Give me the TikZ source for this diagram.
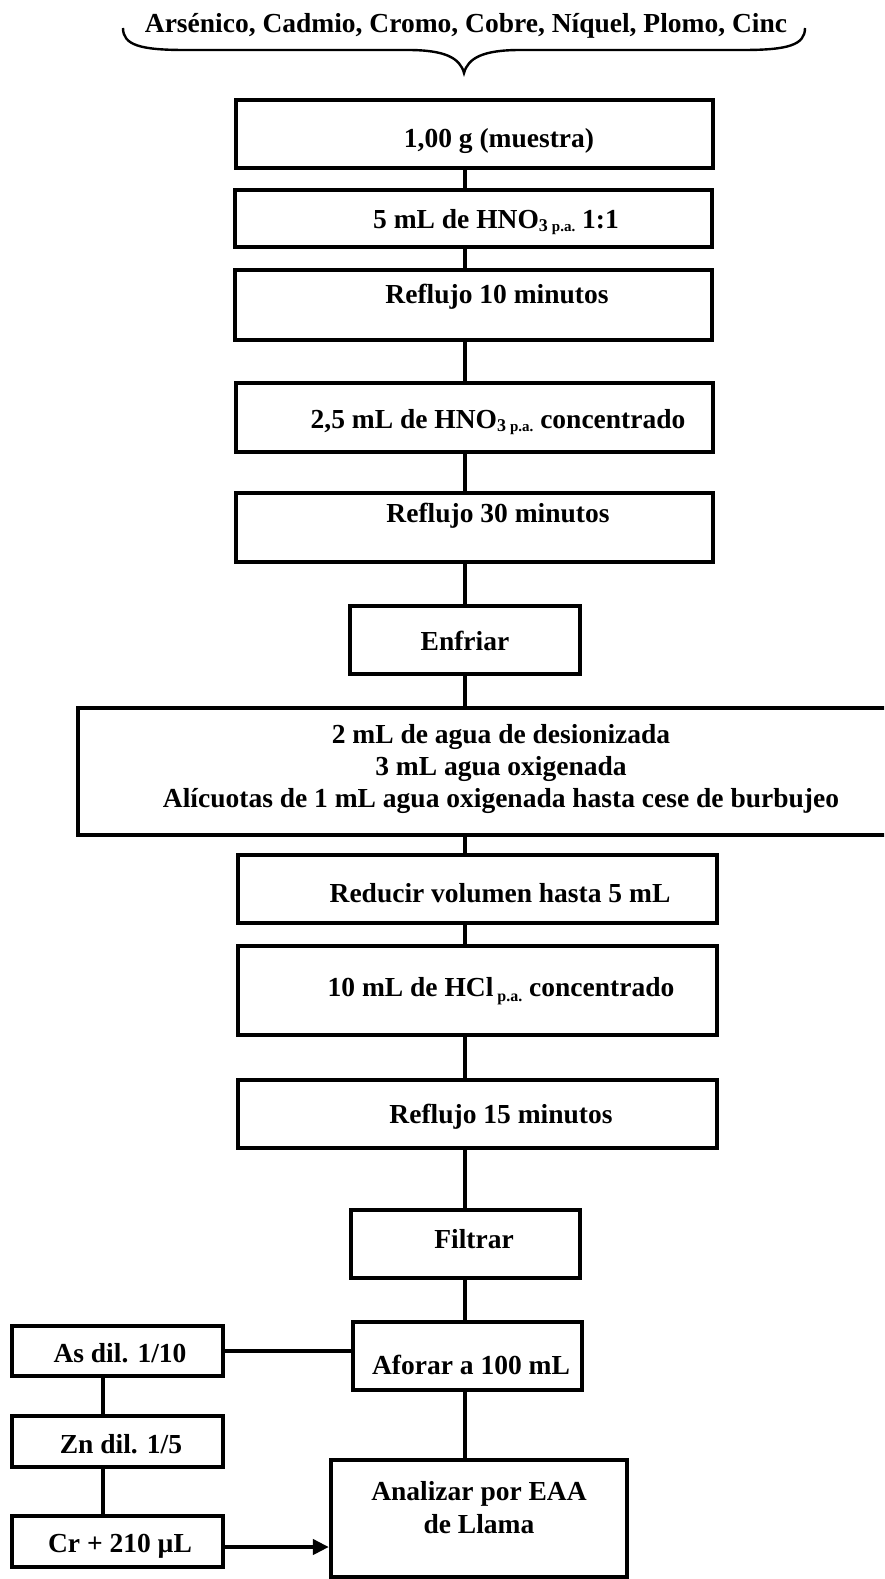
\documentclass[tikz,border=0pt]{standalone}
\usepackage{fontspec}
\setmainfont{Liberation Serif}
\usetikzlibrary{arrows.meta,fit}
\tikzset{
  box/.style={draw, line width=4.2pt, inner sep=0pt, rectangle},
  conn/.style={line width=3.2pt},
  arrowconn/.style={line width=4.2pt, -{Triangle[length=16pt,width=15pt]}},
  bracestyle/.style={line width=2.4pt},
  txt/.style={anchor=base, inner sep=0pt, font=\fontsize{27.5}{32}\selectfont\bfseries},
  txtb/.style={anchor=base, inner sep=0pt, font=\fontsize{27.5}{33}\selectfont\bfseries},
}
\newcommand\hnosub{\raisebox{-3pt}{\fontsize{18}{18}\selectfont 3\hspace{4pt}\fontsize{15}{15}\selectfont p.a.}}
\newcommand\hclsub{\hspace{4pt}\raisebox{-5pt}{\fontsize{16}{16}\selectfont p.a.}}
\begin{document}
\begin{tikzpicture}[x=1pt,y=-1pt]
\useasboundingbox (0,0) rectangle (884,1579);
\fill[white] (0,0) rectangle (884,1579);
\clip (0,0) rectangle (884,1579);
\coordinate (cx) at (465,0);
\coordinate (lx) at (103,0);
\coordinate (ry) at (0,1547);

% title and brace
\node[txt] (title) at (466,33) {Arsénico, Cadmio, Cromo, Cobre, Níquel, Plomo, Cinc};
\draw[bracestyle] (123,28) .. controls (123,45) and (140,50) .. (185,50) -- (408,50)
   .. controls (445,50) and (460,58) .. (464,73)
   .. controls (468,58) and (483,50) .. (520,50) -- (743,50)
   .. controls (788,50) and (805,45) .. (805,28);

% boxes
\node[box, fit={(236,100) (713,168)}] (b1) {};
\node[box, fit={(235,190) (712,247)}] (b2) {};
\node[box, fit={(235,270) (712,340)}] (b3) {};
\node[box, fit={(236,383) (713,452)}] (b4) {};
\node[box, fit={(236,493) (713,562)}] (b5) {};
\node[box, fit={(350,606) (580,674)}] (b6) {};
\node[box, fit={(78,708) (900,835)}] (b7) {};
\node[box, fit={(238,855) (717,923)}] (b8) {};
\node[box, fit={(238,946) (717,1035)}] (b9) {};
\node[box, fit={(238,1080) (717,1148)}] (b10) {};
\node[box, fit={(351,1210) (580,1278)}] (b11) {};
\node[box, fit={(353,1322) (582,1390)}] (b12) {};
\node[box, fit={(331,1460) (627,1577)}] (b13) {};
\node[box, fit={(12,1326) (223,1376)}] (as) {};
\node[box, fit={(12,1416) (223,1467)}] (zn) {};
\node[box, fit={(12,1516) (223,1567)}] (cr) {};

% texts
\node[txt] (t1) at (499,147) {1,00 g (muestra)};
\node[txt] (t2) at (496,228) {5 mL de HNO\hnosub{} 1:1};
\node[txt] (t3) at (497,303) {Reflujo 10 minutos};
\node[txt] (t4) at (498,428) {2,5 mL de HNO\hnosub{} concentrado};
\node[txt] (t5) at (498,522) {Reflujo 30 minutos};
\node[txt] (t6) at (465,650) {Enfriar};
\node[txt] (t7) at (501,743) {\begin{tabular}[t]{@{}c@{}}2 mL de agua de desionizada\\3 mL agua oxigenada\\Alícuotas de 1 mL agua oxigenada hasta cese de burbujeo\end{tabular}};
\node[txt] (t8) at (500,902) {Reducir volumen hasta 5 mL};
\node[txt] (t9) at (501,996) {10 mL de HCl\hclsub{} concentrado};
\node[txt] (t10) at (501,1123) {Reflujo 15 minutos};
\node[txt] (t11) at (474,1248) {Filtrar};
\node[txt] (t12) at (471,1374) {Aforar a 100 mL};
\node[txtb] (t13) at (479,1500) {\begin{tabular}[t]{@{}c@{}}Analizar por EAA\\de Llama\end{tabular}};
\node[txt] (tas) at (120,1362) {As dil. 1/10};
\node[txt] (tzn) at (121,1453) {Zn dil. 1/5};
\node[txt] (tcr) at (120,1552) {Cr + 210 µL};

% connectors
\draw[conn] (b1.south -| cx) -- (b2.north -| cx);
\draw[conn] (b2.south -| cx) -- (b3.north -| cx);
\draw[conn] (b3.south -| cx) -- (b4.north -| cx);
\draw[conn] (b4.south -| cx) -- (b5.north -| cx);
\draw[conn] (b5.south -| cx) -- (b6.north -| cx);
\draw[conn] (b6.south -| cx) -- (b7.north -| cx);
\draw[conn] (b7.south -| cx) -- (b8.north -| cx);
\draw[conn] (b8.south -| cx) -- (b9.north -| cx);
\draw[conn] (b9.south -| cx) -- (b10.north -| cx);
\draw[conn] (b10.south -| cx) -- (b11.north -| cx);
\draw[conn] (b11.south -| cx) -- (b12.north -| cx);
\draw[conn] (b12.south -| cx) -- (b13.north -| cx);
\draw[conn] (as.east) -- (as.east -| b12.west);
\draw[conn] (as.south -| lx) -- (zn.north -| lx);
\draw[conn] (zn.south -| lx) -- (cr.north -| lx);
\draw[arrowconn] (cr.east |- ry) -- (b13.west |- ry);
\end{tikzpicture}
\end{document}
